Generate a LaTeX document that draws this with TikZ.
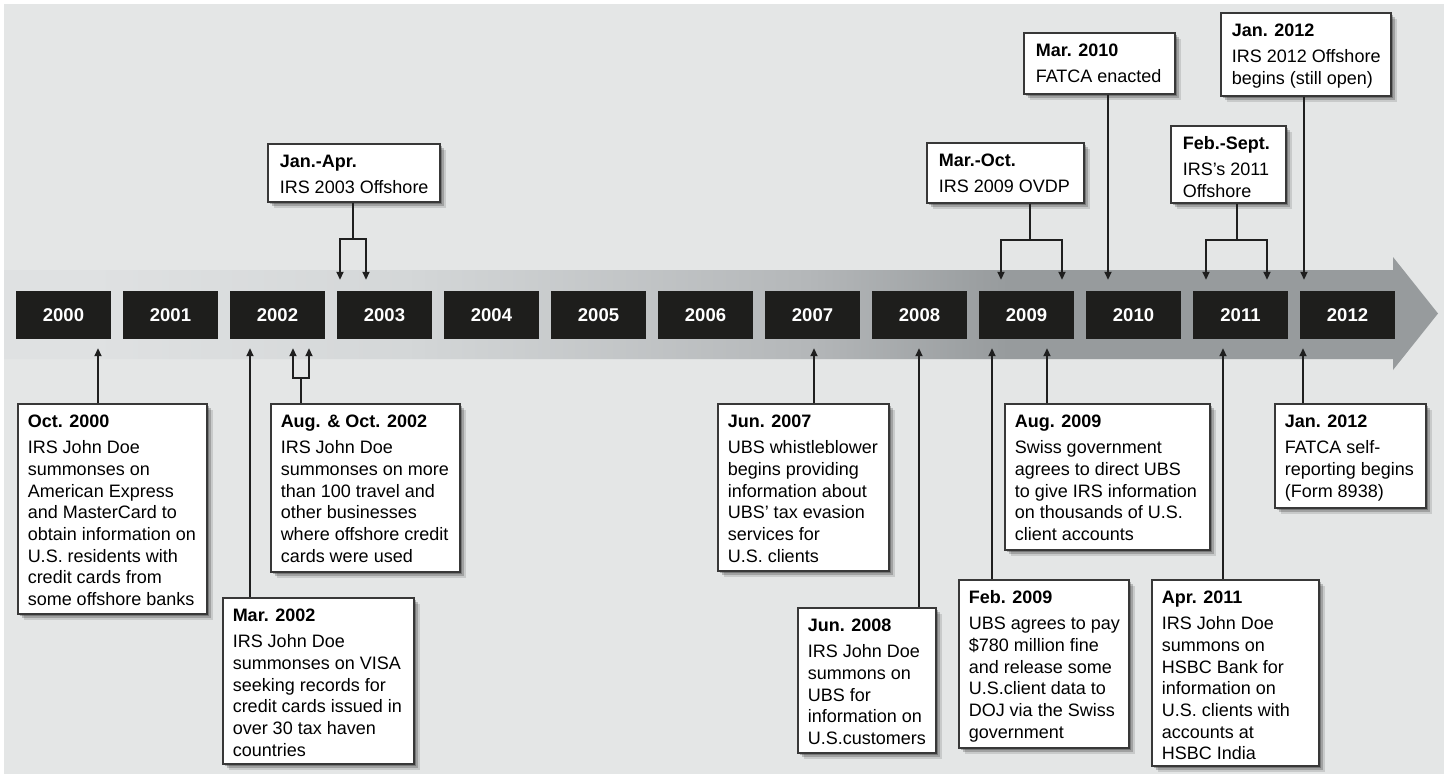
\documentclass[tikz,border=0pt]{standalone}
\usepackage{fontspec}
\setmainfont{Liberation Sans}
\usetikzlibrary{arrows.meta,shadows,calc}
\definecolor{bgc}{HTML}{E4E6E6}
\definecolor{bandL}{HTML}{DFE1E2}
\definecolor{bandMa}{HTML}{D4D7D8}
\definecolor{bandMb}{HTML}{B4B7B9}
\definecolor{bandR}{HTML}{979B9D}
\definecolor{yrfill}{HTML}{1E1E1C}
\definecolor{boxline}{HTML}{383838}
\pgfdeclarehorizontalshading{bandsh}{100bp}{color(0bp)=(bandL); color(28bp)=(bandL); color(39bp)=(bandMa); color(53bp)=(bandMb); color(60bp)=(bandR); color(100bp)=(bandR)}
% #1 width, #2 height, #3 left pad, #4 title, #5 body
\newcommand{\evtxt}[5]{\parbox[c][#2][t]{#1}{\raggedright\leftskip=#3\rightskip=-60pt plus 1fil\fontsize{18}{21.7}\selectfont\rule{0pt}{24pt}\textbf{#4}\\[4.3pt]#5}}
\tikzset{
  evbox/.style={draw=boxline, line width=1.5pt, fill=white, inner sep=0pt, anchor=north west,
    drop shadow={shadow xshift=6pt, shadow yshift=-6pt, opacity=0.12, fill=black},
    drop shadow={shadow xshift=4pt, shadow yshift=-4pt, opacity=0.2, fill=black},
    drop shadow={shadow xshift=2pt, shadow yshift=-2.5pt, opacity=0.25, fill=black}},
  yr/.style={fill=yrfill, text=white, font=\bfseries\fontsize{18.5}{20}\selectfont, minimum width=95pt, minimum height=48pt, inner sep=0pt},
  conn/.style={draw=black!88, line width=1.8pt},
  arrU/.style={conn, -{Triangle[length=8pt,width=7pt]}, shorten >=9pt},
  arrD/.style={conn, -{Triangle[length=8pt,width=7pt]}, shorten >=11pt}
}
\begin{document}
\begin{tikzpicture}[x=1pt,y=-1pt]
\useasboundingbox (0,0) rectangle (1449,779);
\fill[bgc] (4,4) rectangle (1444,774);
% band arrow
\shade[shading=bandsh] (4,270) -- (1393,270) -- (1393,257) -- (1438,313.5) -- (1393,370) -- (1393,359) -- (4,359) -- cycle;
% year boxes
\foreach \yr [count=\i from 0] in {2000,2001,2002,2003,2004,2005,2006,2007,2008,2009,2010,2011,2012}
  \node[yr] (y\yr) at ({63.5+107*\i},315) {\yr};

% bottom events
\node[evbox] (o00) at (17,403) {\evtxt{189pt}{210pt}{10pt}{Oct. 2000}{IRS John Doe\\summonses on\\American Express\\and MasterCard to\\obtain information on\\U.S. residents with\\credit cards from\\some offshore banks}};
\node[evbox] (ao02) at (270,403) {\evtxt{189pt}{168pt}{10pt}{Aug. \& Oct. 2002}{IRS John Doe\\summonses on more\\than 100 travel and\\other businesses\\where offshore credit\\cards were used}};
\node[evbox] (m02) at (222,597) {\evtxt{191pt}{166pt}{10pt}{Mar. 2002}{IRS John Doe\\summonses on VISA\\seeking records for\\credit cards issued in\\over 30 tax haven\\countries}};
\node[evbox] (j07) at (717,403) {\evtxt{171pt}{167pt}{10pt}{Jun. 2007}{UBS whistleblower\\begins providing\\information about\\UBS' tax evasion\\services for\\U.S. clients}};
\node[evbox] (j08) at (797,607) {\evtxt{138pt}{145pt}{10pt}{Jun. 2008}{IRS John Doe\\summons on\\UBS for\\information on\\U.S.customers}};
\node[evbox] (f09) at (958,579) {\evtxt{170pt}{168pt}{10pt}{Feb. 2009}{UBS agrees to pay\\\$780 million fine\\and release some\\U.S.client data to\\DOJ via the Swiss\\government}};
\node[evbox] (a09) at (1004,403) {\evtxt{205pt}{146pt}{10pt}{Aug. 2009}{Swiss government\\agrees to direct UBS\\to give IRS information\\on thousands of U.S.\\client accounts}};
\node[evbox] (a11) at (1151,579) {\evtxt{167pt}{186pt}{10pt}{Apr. 2011}{IRS John Doe\\summons on\\HSBC Bank for\\information on\\U.S. clients with\\accounts at\\HSBC India}};
\node[evbox] (j12b) at (1274,403) {\evtxt{151pt}{104pt}{10pt}{Jan. 2012}{FATCA self-\\reporting begins\\(Form 8938)}};

% top events
\node[evbox] (ja03) at (267,143) {\evtxt{172pt}{58pt}{12pt}{Jan.-Apr.}{IRS 2003 Offshore}};
\node[evbox] (mo09) at (926,142) {\evtxt{157pt}{60pt}{12pt}{Mar.-Oct.}{IRS 2009 OVDP}};
\node[evbox] (m10) at (1023,32) {\evtxt{151pt}{61pt}{12pt}{Mar. 2010}{FATCA enacted}};
\node[evbox] (fs11) at (1170,125) {\evtxt{115pt}{77pt}{12pt}{Feb.-Sept.}{IRS's 2011\\Offshore}};
\node[evbox] (j12t) at (1220,12) {\evtxt{170pt}{83pt}{11pt}{Jan. 2012}{IRS 2012 Offshore\\begins (still open)}};

% connector columns
\coordinate (k00) at (98,0);
\coordinate (k02a) at (250,0);
\coordinate (k02b) at (293,0);
\coordinate (k02c) at (309,0);
\coordinate (k03a) at (340,0);
\coordinate (k03b) at (366,0);
\coordinate (k07) at (814,0);
\coordinate (k08) at (919,0);
\coordinate (k09a) at (992,0);
\coordinate (k09b) at (1047,0);
\coordinate (k09c) at (1001,0);
\coordinate (k09d) at (1062,0);
\coordinate (k10) at (1108,0);
\coordinate (k11) at (1223,0);
\coordinate (k11a) at (1206,0);
\coordinate (k11b) at (1267,0);
\coordinate (k12b) at (1303,0);
\coordinate (k12t) at (1304,0);
\coordinate (aoF) at (301,378);
\coordinate (jaF) at (353,239);
\coordinate (moF) at (1030,240);
\coordinate (fsF) at (1237,240);

% bottom connectors
\draw[arrU] (o00.north -| k00) -- (y2000.south -| k00);
\draw[arrU] (m02.north -| k02a) -- (y2002.south -| k02a);
\draw[conn] (ao02.north -| aoF) -- (aoF);
\draw[arrU] (aoF) -- (aoF -| k02b) -- (y2002.south -| k02b);
\draw[arrU] (aoF) -- (aoF -| k02c) -- (y2002.south -| k02c);
\draw[arrU] (j07.north -| k07) -- (y2007.south -| k07);
\draw[arrU] (j08.north -| k08) -- (y2008.south -| k08);
\draw[arrU] (f09.north -| k09a) -- (y2009.south -| k09a);
\draw[arrU] (a09.north -| k09b) -- (y2009.south -| k09b);
\draw[arrU] (a11.north -| k11) -- (y2011.south -| k11);
\draw[arrU] (j12b.north -| k12b) -- (y2012.south -| k12b);

% top connectors
\draw[conn] (ja03.south -| jaF) -- (jaF);
\draw[arrD] (jaF) -- (jaF -| k03a) -- (y2003.north -| k03a);
\draw[arrD] (jaF) -- (jaF -| k03b) -- (y2003.north -| k03b);
\draw[conn] (mo09.south -| moF) -- (moF);
\draw[arrD] (moF) -- (moF -| k09c) -- (y2009.north -| k09c);
\draw[arrD] (moF) -- (moF -| k09d) -- (y2009.north -| k09d);
\draw[arrD] (m10.south -| k10) -- (y2010.north -| k10);
\draw[conn] (fs11.south -| fsF) -- (fsF);
\draw[arrD] (fsF) -- (fsF -| k11a) -- (y2011.north -| k11a);
\draw[arrD] (fsF) -- (fsF -| k11b) -- (y2011.north -| k11b);
\draw[arrD] (j12t.south -| k12t) -- (y2012.north -| k12t);
\end{tikzpicture}
\end{document}
